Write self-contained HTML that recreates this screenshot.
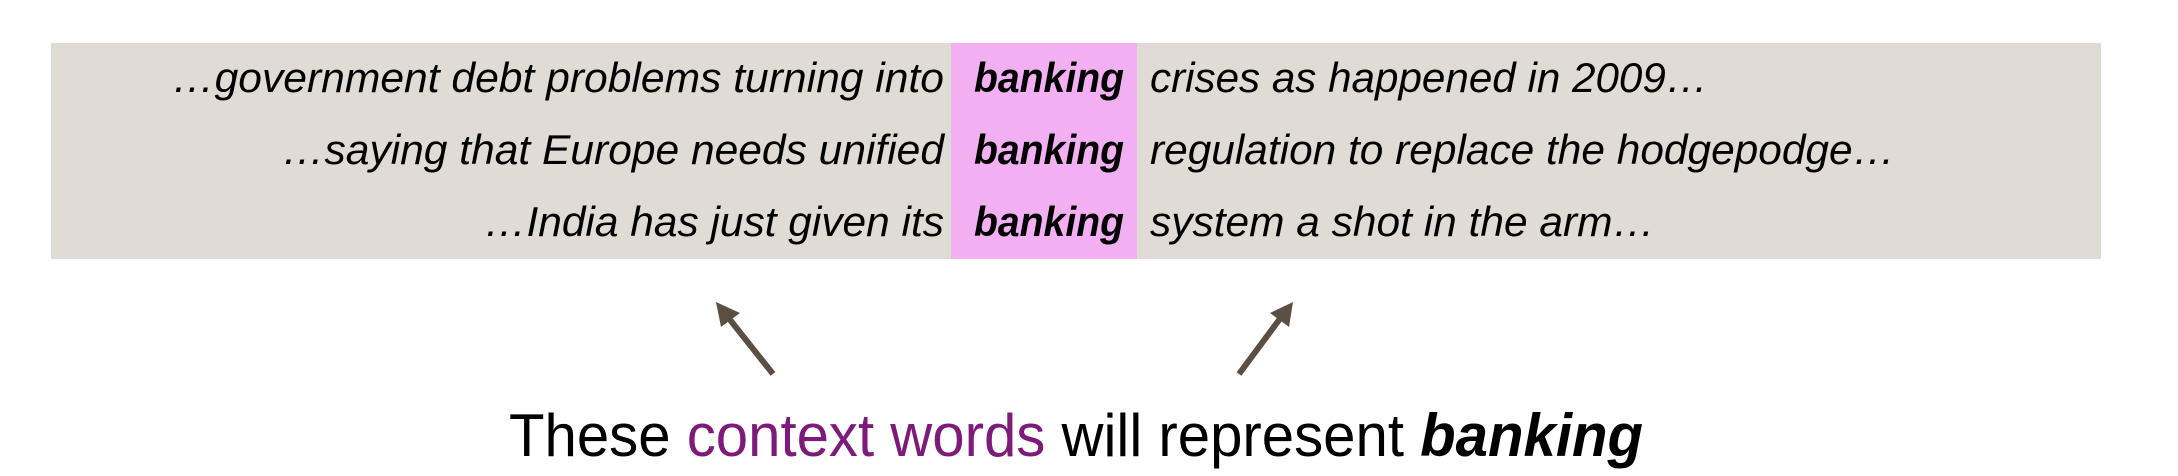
<!DOCTYPE html>
<html><head><meta charset="utf-8"><style>html,body{margin:0;padding:0;background:#fff;}svg{display:block}</style></head>
<body>
<svg width="2178" height="476" viewBox="0 0 2178 476" xmlns="http://www.w3.org/2000/svg">
<rect x="51" y="43" width="2050" height="216" fill="#e1dbd6"/>
<rect x="951" y="43" width="186" height="216" fill="#f2b0f2"/>
<g font-family="'Liberation Sans', Arial, sans-serif" font-style="italic" font-size="42" fill="#000">
<text x="172" y="92" textLength="772" lengthAdjust="spacingAndGlyphs">…government debt problems turning into</text>
<text x="282" y="164" textLength="662" lengthAdjust="spacingAndGlyphs">…saying that Europe needs unified</text>
<text x="484" y="236" textLength="460" lengthAdjust="spacingAndGlyphs">…India has just given its</text>
<text x="974" y="92" font-weight="bold" textLength="150" lengthAdjust="spacingAndGlyphs">banking</text>
<text x="974" y="164" font-weight="bold" textLength="150" lengthAdjust="spacingAndGlyphs">banking</text>
<text x="974" y="236" font-weight="bold" textLength="150" lengthAdjust="spacingAndGlyphs">banking</text>
<text x="1150" y="92" textLength="558" lengthAdjust="spacingAndGlyphs">crises as happened in 2009…</text>
<text x="1150" y="164" textLength="745" lengthAdjust="spacingAndGlyphs">regulation to replace the hodgepodge…</text>
<text x="1150" y="236" textLength="505" lengthAdjust="spacingAndGlyphs">system a shot in the arm…</text>
</g>
<g stroke="#5b4f44" stroke-width="6" fill="#5b4f44">
<line x1="773" y1="374" x2="727" y2="316"/>
<polygon points="716,302 740,313 721,327" stroke="none"/>
<line x1="1239" y1="374" x2="1282" y2="316"/>
<polygon points="1293,302 1270,313 1289,327" stroke="none"/>
</g>
<text x="509" y="456" font-family="'Liberation Sans', Arial, sans-serif" font-size="60" fill="#000" textLength="1134" lengthAdjust="spacingAndGlyphs">These <tspan fill="#7e1a7a">context words</tspan> will represent <tspan font-weight="bold" font-style="italic">banking</tspan></text>
</svg>
</body></html>
